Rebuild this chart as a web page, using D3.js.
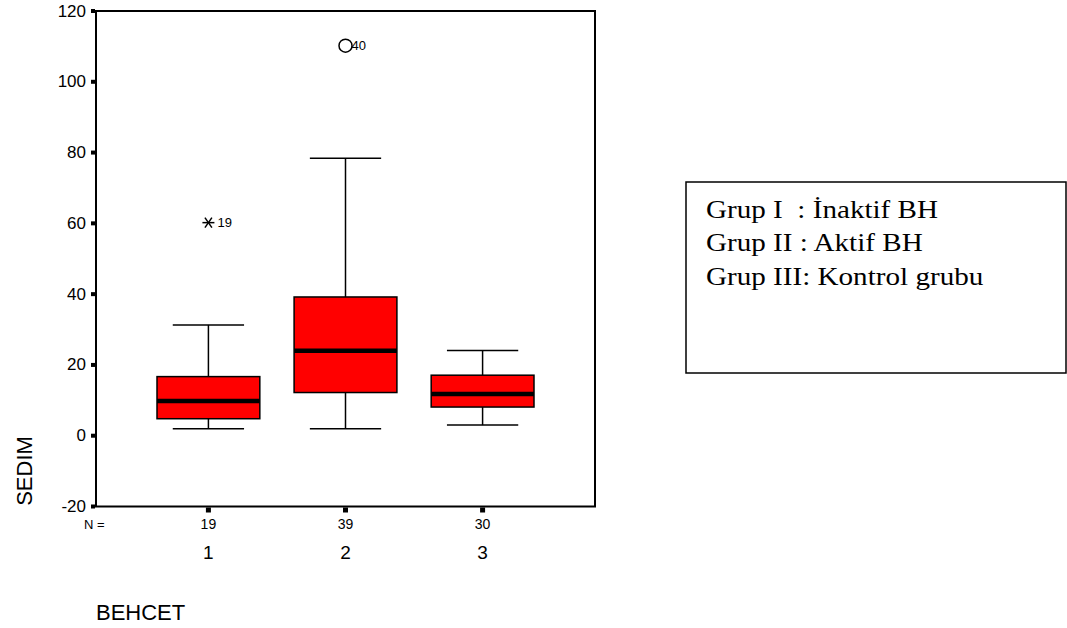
<!DOCTYPE html>
<html>
<head>
<meta charset="utf-8">
<script src="https://cdn.jsdelivr.net/npm/d3@7/dist/d3.min.js"></script>
<style>
  body { margin: 0; background: #fff; }
  svg { display: block; }
</style>
</head>
<body>
<svg id="chart"></svg>
<script>
// data
var groups = ["1", "2", "3"];
var counts = [19, 39, 30];
var whiskerLow = [2, 2, 3];
var q1 = [4.8, 12.2, 8.1];
var median = [9.8, 24, 11.8];
var q3 = [16.7, 39.2, 17.1];
var whiskerHigh = [31.3, 78.4, 24.1];
// outliers: group, value, case label, kind
var outlierGroup = ["1", "2"];
var outlierValue = [60.2, 110.2];
var outlierCase = ["19", "40"];
var outlierKind = ["extreme", "outlier"];
var yTicks = [-20, 0, 20, 40, 60, 80, 100, 120];
var legendLines = ["Grup I  : İnaktif BH", "Grup II : Aktif BH", "Grup III: Kontrol grubu"];

var width = 1067, height = 628;
var plotLeft = 96, plotRight = 595, plotTop = 11, plotBottom = 506.5;

var svg = d3.select("#chart")
    .attr("width", width)
    .attr("height", height)
    .style("font-family", "'Liberation Sans', Arial, sans-serif");

var x = d3.scaleBand()
    .domain(groups)
    .range([plotLeft, plotRight])
    .paddingInner(0)
    .paddingOuter(0.32);

var y = d3.scaleLinear()
    .domain([-20, 120])
    .range([plotBottom, plotTop]);

var boxW = x.bandwidth() * 0.75;
var capW = x.bandwidth() * 0.52;

// frame
svg.append("rect")
    .attr("x", plotLeft).attr("y", plotTop)
    .attr("width", plotRight - plotLeft).attr("height", plotBottom - plotTop)
    .attr("fill", "none").attr("stroke", "#000").attr("stroke-width", 2);

// y axis ticks (little squares) and labels
var yAxis = svg.append("g");
yAxis.selectAll("rect").data(yTicks).enter().append("rect")
    .attr("x", plotLeft - 5).attr("y", d => y(d) - 2)
    .attr("width", 4).attr("height", 4).attr("fill", "#000");
yAxis.selectAll("text").data(yTicks).enter().append("text")
    .attr("x", plotLeft - 10).attr("y", d => y(d))
    .attr("text-anchor", "end").attr("dominant-baseline", "central")
    .style("font-size", "17px")
    .text(d => d);

// x axis ticks, N counts and category labels
var xAxis = svg.append("g");
xAxis.selectAll("rect").data(groups).enter().append("rect")
    .attr("x", d => x(d) + x.bandwidth() / 2 - 2.5).attr("y", plotBottom + 1)
    .attr("width", 5).attr("height", 5).attr("fill", "#000");
xAxis.selectAll("text.n").data(groups).enter().append("text")
    .attr("class", "n")
    .attr("x", d => x(d) + x.bandwidth() / 2).attr("y", 528.5)
    .attr("text-anchor", "middle").style("font-size", "14px")
    .text((d, i) => counts[i]);
xAxis.selectAll("text.cat").data(groups).enter().append("text")
    .attr("class", "cat")
    .attr("x", d => x(d) + x.bandwidth() / 2).attr("y", 558.5)
    .attr("text-anchor", "middle").style("font-size", "19px")
    .text(d => d);
svg.append("text").attr("x", 84).attr("y", 528.5)
    .style("font-size", "13px").text("N =");

// boxes
var boxes = svg.selectAll("g.box").data(groups).enter().append("g")
    .attr("class", "box")
    .attr("transform", d => "translate(" + (x(d) + x.bandwidth() / 2) + ",0)");

boxes.append("line")
    .attr("x1", 0).attr("x2", 0)
    .attr("y1", (d, i) => y(whiskerHigh[i])).attr("y2", (d, i) => y(q3[i]))
    .attr("stroke", "#000").attr("stroke-width", 1.5);
boxes.append("line")
    .attr("x1", 0).attr("x2", 0)
    .attr("y1", (d, i) => y(q1[i])).attr("y2", (d, i) => y(whiskerLow[i]))
    .attr("stroke", "#000").attr("stroke-width", 1.5);
boxes.append("line")
    .attr("x1", -capW / 2).attr("x2", capW / 2)
    .attr("y1", (d, i) => y(whiskerHigh[i])).attr("y2", (d, i) => y(whiskerHigh[i]))
    .attr("stroke", "#000").attr("stroke-width", 1.5);
boxes.append("line")
    .attr("x1", -capW / 2).attr("x2", capW / 2)
    .attr("y1", (d, i) => y(whiskerLow[i])).attr("y2", (d, i) => y(whiskerLow[i]))
    .attr("stroke", "#000").attr("stroke-width", 1.5);
boxes.append("rect")
    .attr("x", -boxW / 2).attr("width", boxW)
    .attr("y", (d, i) => y(q3[i]))
    .attr("height", (d, i) => y(q1[i]) - y(q3[i]))
    .attr("fill", "#ff0000").attr("stroke", "#000").attr("stroke-width", 1.5);
boxes.append("line")
    .attr("x1", -boxW / 2).attr("x2", boxW / 2)
    .attr("y1", (d, i) => y(median[i])).attr("y2", (d, i) => y(median[i]))
    .attr("stroke", "#000").attr("stroke-width", 4.5);

// outliers
outlierGroup.forEach(function(g, i) {
    var cx = x(g) + x.bandwidth() / 2, cy = y(outlierValue[i]);
    if (outlierKind[i] == "outlier") {
        svg.append("circle").attr("cx", cx).attr("cy", cy).attr("r", 6.5)
            .attr("fill", "none").attr("stroke", "#000").attr("stroke-width", 1.5);
        svg.append("text").attr("x", cx + 6).attr("y", cy).attr("dominant-baseline", "central")
            .style("font-size", "13px").text(outlierCase[i]);
    } else {
        var star = svg.append("g").attr("transform", "translate(" + cx + "," + cy + ")")
            .attr("stroke", "#000").attr("stroke-width", 1.5);
        star.append("line").attr("x1", -6).attr("x2", 6).attr("y1", 0).attr("y2", 0);
        star.append("line").attr("x1", -3.5).attr("x2", 3.5).attr("y1", -5).attr("y2", 5);
        star.append("line").attr("x1", -3.5).attr("x2", 3.5).attr("y1", 5).attr("y2", -5);
        svg.append("text").attr("x", cx + 9).attr("y", cy).attr("dominant-baseline", "central")
            .style("font-size", "13px").text(outlierCase[i]);
    }
});

// axis titles
svg.append("text")
    .attr("transform", "translate(32,471) rotate(-90)")
    .attr("text-anchor", "middle")
    .style("font-size", "22px")
    .text("SEDIM");
svg.append("text").attr("x", 96).attr("y", 620)
    .style("font-size", "22px").text("BEHCET");

// legend box
svg.append("rect")
    .attr("x", 686).attr("y", 182).attr("width", 380).attr("height", 191)
    .attr("fill", "none").attr("stroke", "#000").attr("stroke-width", 1.5);
var legend = svg.append("g")
    .attr("transform", "translate(706,0) scale(1.12,1)");
legend.selectAll("text.leg").data(legendLines).enter().append("text")
    .attr("class", "leg")
    .attr("x", 0).attr("y", (d, i) => 218 + i * 33.5)
    .style("font-family", "'Liberation Serif', 'Times New Roman', serif")
    .style("font-size", "26px")
    .style("white-space", "pre")
    .attr("xml:space", "preserve")
    .text(d => d);
</script>
</body>
</html>
